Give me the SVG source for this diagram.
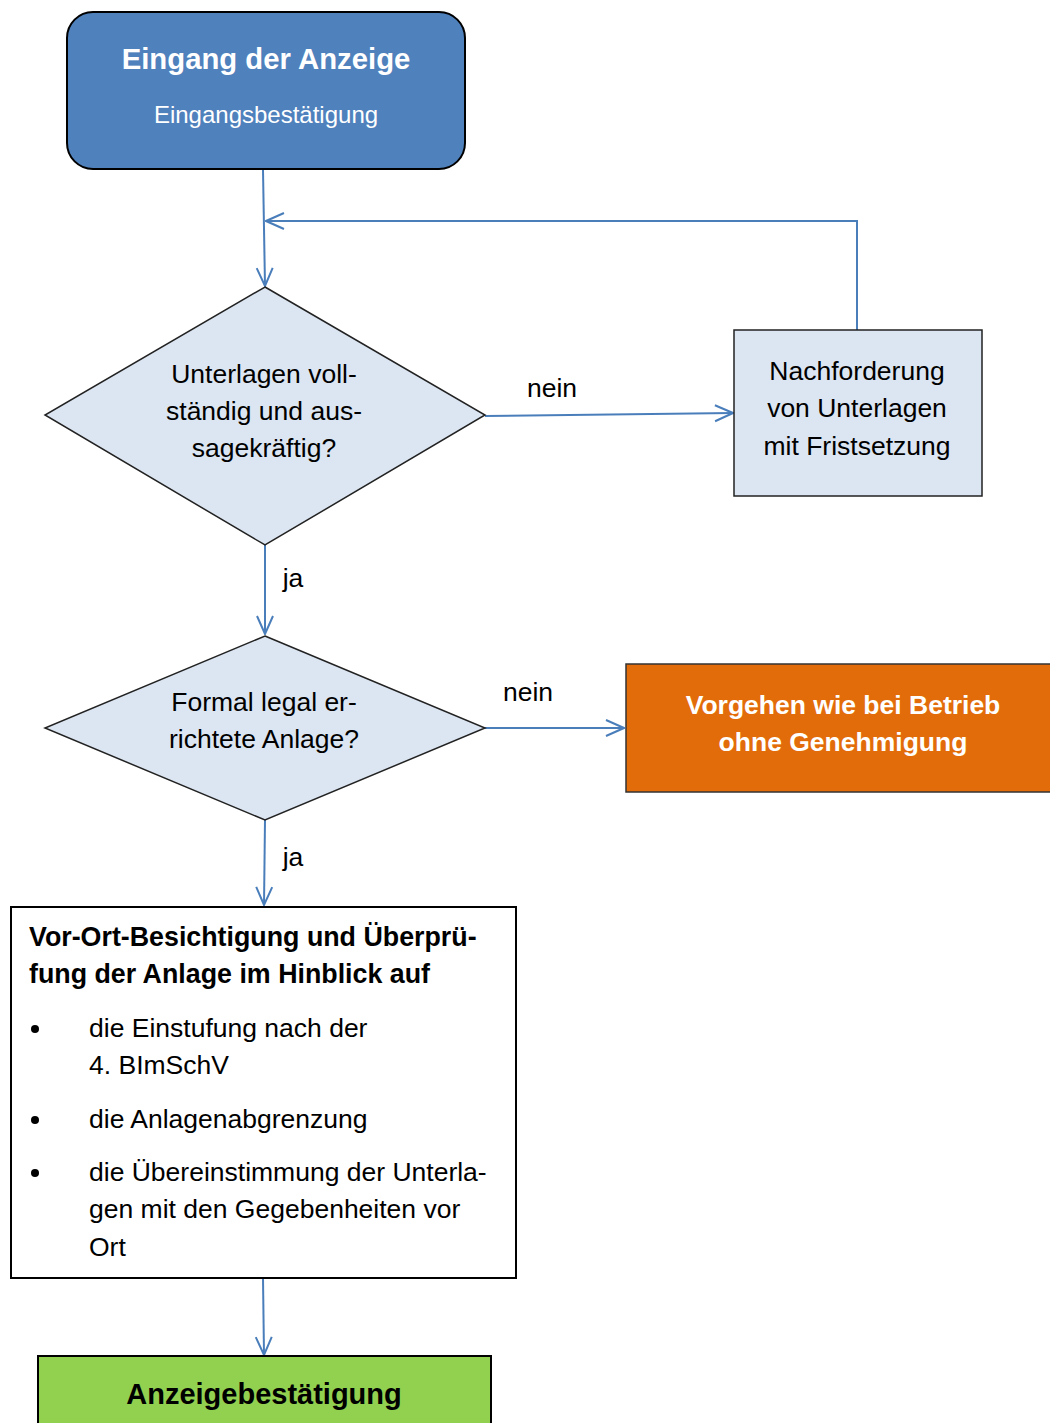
<svg xmlns="http://www.w3.org/2000/svg" width="1050" height="1423" viewBox="0 0 1050 1423">
<defs>
<marker id="arr" viewBox="0 0 20 20" refX="19" refY="10" markerWidth="20" markerHeight="20" markerUnits="userSpaceOnUse" orient="auto">
<path d="M1,2 L19,10 L1,18" fill="none" stroke="#4a7ebb" stroke-width="2"/>
</marker>
<style>
text{font-family:"Liberation Sans",Arial,sans-serif;font-size:26.5px;fill:#000}
.c{text-anchor:middle}
.b{font-weight:bold}
.w{fill:#fff}
.con{fill:none;stroke:#4a7ebb;stroke-width:2;marker-end:url(#arr)}
.lb{fill:#dce6f2;stroke:#222;stroke-width:1.5}
.bul{fill:#000}
</style>
</defs>
<rect width="1050" height="1423" fill="#fff"/>
<g id="connectors">
<path class="con" d="M263,170 L265,286"/>
<path class="con" d="M857,330 L857,221 L266,221"/>
<path class="con" d="M485,416 L733,413"/>
<path class="con" d="M265,545 L265,634"/>
<path class="con" d="M485,728 L624,728"/>
<path class="con" d="M265,820 L264,905"/>
<path class="con" d="M263,1278 L264,1355"/>
<text x="552" y="397" class="c">nein</text>
<text x="293" y="587" class="c">ja</text>
<text x="528" y="701" class="c">nein</text>
<text x="293" y="866" class="c">ja</text>
</g>
<g id="eingang">
<rect x="67" y="12" width="398" height="157" rx="26" fill="#4f81bd" stroke="#000" stroke-width="2"/>
<text x="266" y="69" class="c b w" style="font-size:29.3px">Eingang der Anzeige</text>
<text x="266" y="123" class="c w" style="font-size:24px">Eingangsbestätigung</text>
</g>
<g id="pruefung1">
<polygon points="265,287 485,415 265,545 45,415" class="lb"/>
<text x="264" y="383" class="c">Unterlagen voll-</text>
<text x="264" y="420" class="c">ständig und aus-</text>
<text x="264" y="457" class="c">sagekräftig?</text>
</g>
<g id="nachforderung">
<rect x="734" y="330" width="248" height="166" class="lb"/>
<text x="857" y="380" class="c">Nachforderung</text>
<text x="857" y="417" class="c">von Unterlagen</text>
<text x="857" y="455" class="c">mit Fristsetzung</text>
</g>
<g id="pruefung2">
<polygon points="265,636 485,728 265,820 45,728" class="lb"/>
<text x="264" y="711" class="c">Formal legal er-</text>
<text x="264" y="748" class="c">richtete Anlage?</text>
</g>
<g id="ohne">
<rect x="626" y="664" width="440" height="128" fill="#e36c0a" stroke="#333" stroke-width="1.5"/>
<text x="843" y="714" class="c b w">Vorgehen wie bei Betrieb</text>
<text x="843" y="751" class="c b w">ohne Genehmigung</text>
</g>
<g id="besichtigung">
<rect x="11" y="907" width="505" height="371" fill="#fff" stroke="#000" stroke-width="2"/>
<text x="29" y="946" class="b" style="font-size:26.8px">Vor-Ort-Besichtigung und Überprü-</text>
<text x="29" y="983" class="b" style="font-size:26.8px">fung der Anlage im Hinblick auf</text>
<circle cx="35" cy="1029" r="4" class="bul"/>
<text x="89" y="1037">die Einstufung nach der</text>
<text x="89" y="1074">4. BImSchV</text>
<circle cx="35" cy="1120" r="4" class="bul"/>
<text x="89" y="1128">die Anlagenabgrenzung</text>
<circle cx="35" cy="1173" r="4" class="bul"/>
<text x="89" y="1181">die Übereinstimmung der Unterla-</text>
<text x="89" y="1218">gen mit den Gegebenheiten vor</text>
<text x="89" y="1256">Ort</text>
</g>
<g id="bestaetigung">
<rect x="38" y="1356" width="453" height="90" fill="#92d050" stroke="#000" stroke-width="2"/>
<text x="264" y="1404" class="c b" style="font-size:29px">Anzeigebestätigung</text>
</g>
</svg>
